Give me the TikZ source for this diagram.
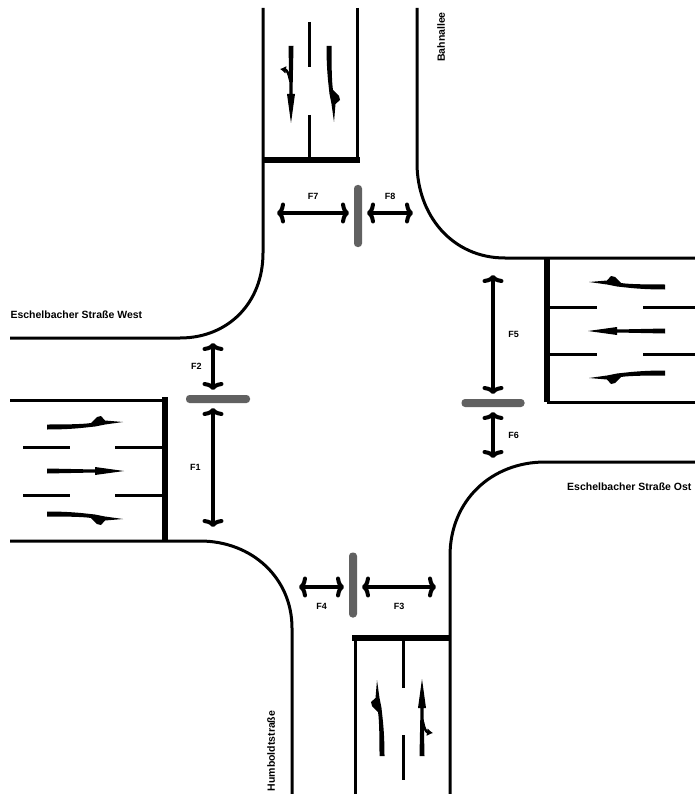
\documentclass[tikz,border=0pt]{standalone}
\usepackage{fontspec}
\setmainfont{Liberation Sans}
\usepackage{tikz}
\usetikzlibrary{positioning}
\usetikzlibrary{arrows.meta}
\tikzset{road/.style={line width=3pt},stopline/.style={line width=6pt},
	bar/.style={rectangle,rounded corners=3.5pt,fill=black!62,inner sep=0pt,outer sep=5pt},
	walk/.style={line width=4pt,{Computer Modern Rightarrow[length=8pt,width=21pt]}-{Computer Modern Rightarrow[length=8pt,width=21pt]}},
	straightarrow/.pic={\fill (0,-2.5) -- (48,-1.5) -- (48,-4) -- (77,0) -- (48,4) -- (48,1.5) -- (0,2.5) -- cycle;},
	bentarrow/.pic={\fill (0,-2.5) .. controls (25,-2.5) and (38,-3) .. (44,-4) -- (50,-10) -- (54,-11) -- (58,-6.5) -- (76,-5) -- (58,-2.5) -- (48,-0.5) .. controls (38,0.5) and (25,2.5) .. (0,2.5) -- cycle;},
	sidebranch/.pic={\draw[line width=2.5pt,-{Latex[length=6pt,width=8pt]}] (34,1) .. controls (28,2) and (24,4) .. (23,11);},
	flabel/.style={font=\fontsize{9}{9}\selectfont\bfseries},
	street/.style={font=\fontsize{10.5}{10.5}\selectfont\bfseries}}
\begin{document}
\begin{tikzpicture}[x=1pt,y=-1pt]
	\useasboundingbox (0,0) rectangle (695,794);
	\draw[road] (263,8) -- (263,253) .. controls (263,303) and (228,338) .. (180,338) -- (10,338);
	\draw[road] (417,8) -- (417,163) .. controls (417,215) and (452,258) .. (505,258) -- (695,258);
	\draw[road] (10,541) -- (200,541) .. controls (252,541) and (292,578) .. (292,628) -- (292,794);
	\draw[road] (450,794) -- (450,556) .. controls (450,500) and (492,462) .. (545,462) -- (695,462);
	\draw[road] (357,8) -- (357,160); \draw[stopline] (263,160) -- (360,160); \draw[road] (309,22) -- (309,67) (309,115) -- (309,160);
	\draw[road] (10,400) -- (165,400); \draw[stopline] (165,397) -- (165,541); \draw[road] (23,447) -- (70,447) (115,447) -- (165,447) (23,495) -- (70,495) (115,495) -- (165,495);
	\draw[stopline] (547,258) -- (547,402); \draw[road] (547,402) -- (695,402) (547,307) -- (597,307) (643,307) -- (695,307) (547,354) -- (597,354) (643,354) -- (695,354);
	\draw[stopline] (352,638) -- (450,638); \draw[road] (355,638) -- (355,794) (403,638) -- (403,688) (403,735) -- (403,780);
	\pic at (47,427) {bentarrow}; \pic at (47,471) {straightarrow}; \pic[yscale=-1] at (47,514) {bentarrow};
	\pic[rotate=180,yscale=-1] at (665,287) {bentarrow}; \pic[rotate=180] at (665,331) {straightarrow}; \pic[rotate=180] at (665,373) {bentarrow};
	\pic[rotate=-90] at (291,46) {straightarrow}; \pic[rotate=-90] at (291,46) {sidebranch}; \pic[rotate=-90] at (329,46) {bentarrow};
	\pic[rotate=90] at (382,756) {bentarrow}; \pic[rotate=90] at (422,756) {straightarrow}; \pic[rotate=90] at (422,756) {sidebranch};
	\node[bar,minimum width=8pt,minimum height=62pt] (nbar) at (358,216) {};
	\node[bar,minimum width=64pt,minimum height=8pt] (wbar) at (218,399) {};
	\node[bar,minimum width=63pt,minimum height=8pt] (ebar) at (493,403) {};
	\node[bar,minimum width=8pt,minimum height=65pt] (sbar) at (353,585) {};
	\coordinate (f7) at (277,213); \coordinate (f8) at (413,213); \coordinate (f2) at (213,343); \coordinate (f1) at (213,527);
	\coordinate (f5) at (493,275); \coordinate (f6) at (493,458); \coordinate (f4) at (299,587); \coordinate (f3) at (436,587);
	\draw[walk] (f7) -- (nbar.west |- f7) node[midway,above=8pt,flabel] {F7};
	\draw[walk] (nbar.east |- f8) -- (f8) node[midway,above=8pt,flabel] {F8};
	\draw[walk] (f2) -- (f2 |- wbar.north) node[midway,left=6pt,flabel] {F2};
	\draw[walk] (f1 |- wbar.south) -- (f1) node[midway,left=7pt,flabel] {F1};
	\draw[walk] (f5) -- (f5 |- ebar.north) node[midway,right=10pt,flabel] {F5};
	\draw[walk] (f6 |- ebar.south) -- (f6) node[midway,right=10pt,flabel] {F6};
	\draw[walk] (f4) -- (sbar.west |- f4) node[midway,below=11pt,flabel] {F4};
	\draw[walk] (sbar.east |- f3) -- (f3) node[midway,below=11pt,flabel] {F3};
	\node[street,anchor=west] (west) at (7,315) {Eschelbacher Straße West};
	\node[street,anchor=east] (ost) at (695,487) {Eschelbacher Straße Ost};
	\node[street,rotate=90] (bahn) at (441,37) {Bahnallee};
	\node[street,rotate=90] (humb) at (271,751) {Humboldtstraße};
\end{tikzpicture}
\end{document}
